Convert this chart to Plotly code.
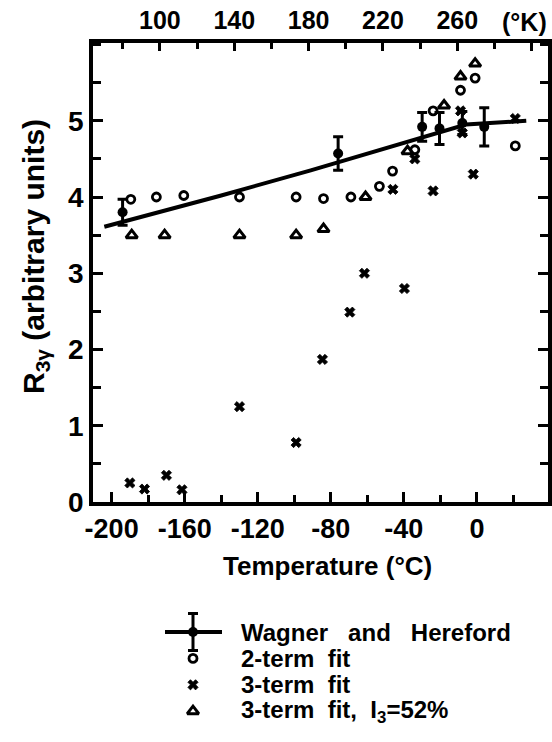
import plotly.graph_objects as go

# ---- data -------------------------------------------------------------
# Wagner and Hereford: temperature (deg C), R3gamma, error
wh_t = [-194, -76, -30, -20.5, -8, 4]
wh_r = [3.80, 4.57, 4.92, 4.90, 4.97, 4.92]
wh_err = [0.17, 0.22, 0.19, 0.21, 0.15, 0.25]

# smooth curve through the Wagner and Hereford results
curve_t = [-204, -140, -91, -42, -6, 27]
curve_r = [3.61, 4.02, 4.35, 4.70, 4.95, 5.00]

# 2-term fit
two_t = [-189.5, -175.5, -160.5, -130, -99, -84, -69, -53.4, -46.2, -34, -24, -9, -1, 21]
two_r = [3.97, 4.00, 4.02, 4.00, 4.00, 3.98, 4.00, 4.14, 4.34, 4.62, 5.13, 5.40, 5.56, 4.67]

# 3-term fit
three_t = [-190, -182, -170, -161.5, -130, -99, -84.6, -69.6, -61.6, -46, -39.7, -34,
           -24, -9, -8, -2, 21]
three_r = [0.25, 0.17, 0.35, 0.16, 1.25, 0.78, 1.87, 2.49, 3.00, 4.10, 2.80, 4.50,
           4.08, 5.13, 4.84, 4.30, 5.03]

# 3-term fit with I3 = 52 %
tri_t = [-189, -171, -130, -99, -84, -61, -38, -18, -9, -1]
tri_r = [3.50, 3.50, 3.50, 3.50, 3.58, 4.00, 4.60, 5.20, 5.58, 5.75]

# axis ticks
c_ticks = [-200, -160, -120, -80, -40, 0]
c_labels = ["-200", "-160", "-120", "-80", "-40", "0"]
k_ticks = [100, 140, 180, 220, 260, 300]
k_labels = ["100", "140", "180", "220", "260", ""]
k_unit = "(°K)"
r_ticks = [0, 1, 2, 3, 4, 5]

legend_labels = ["Wagner   and   Hereford", "2-term  fit", "3-term  fit",
                 "3-term  fit,  I<sub>3</sub>=52%"]

# ---- figure -------------------------------------------------------------
W, H = 552, 742
L_MARGIN, R_MARGIN, T_MARGIN = 0, 4, 43
plot_w = W - L_MARGIN - R_MARGIN
plot_h = H - T_MARGIN
ax_left, ax_bottom = 93, 502          # frame edges in page pixels
leg_top = 595

FONT = "Liberation Sans"
INK = "black"

circle_m = dict(symbol="circle-open", size=8, color=INK, line=dict(width=2.8, color=INK))
cross_m = dict(symbol="x", size=9, color=INK, line=dict(width=0.8, color=INK))
tri_m = dict(symbol="triangle-up-open", size=10, color=INK, line=dict(width=3, color=INK))
dot_m = dict(symbol="circle", size=10, color=INK)

fig = go.Figure()

fig.add_trace(go.Scatter(x=curve_t, y=curve_r, mode="lines",
                         line=dict(color=INK, width=4), hoverinfo="skip"))
fig.add_trace(go.Scatter(x=two_t, y=two_r, mode="markers", marker=circle_m))
fig.add_trace(go.Scatter(x=three_t, y=three_r, mode="markers", marker=cross_m))
fig.add_trace(go.Scatter(x=tri_t, y=tri_r, mode="markers", marker=tri_m))
fig.add_trace(go.Scatter(x=wh_t, y=wh_r, mode="markers", marker=dot_m,
                         error_y=dict(type="data", array=wh_err, visible=True,
                                      color=INK, thickness=3, width=5)))
# kelvin axis carrier (invisible)
fig.add_trace(go.Scatter(x=[t + 273.15 for t in wh_t], y=wh_r, mode="markers",
                         xaxis="x2", marker=dict(opacity=0), hoverinfo="skip"))

# ---- legend (drawn in page-pixel coordinates on a hidden axis pair) -------
row_y = [632 + 26.4 * i for i in range(len(legend_labels))]
key_x = 193
fig.add_trace(go.Scatter(x=[165, 222], y=[row_y[0]] * 2, mode="lines",
                         xaxis="x3", yaxis="y3", line=dict(color=INK, width=4)))
fig.add_trace(go.Scatter(x=[key_x], y=[row_y[0]], mode="markers", xaxis="x3", yaxis="y3",
                         marker=dot_m,
                         error_y=dict(type="constant", value=18.5, visible=True,
                                      color=INK, thickness=3, width=5)))
for m, yy in zip([circle_m, cross_m, tri_m], row_y[1:]):
    fig.add_trace(go.Scatter(x=[key_x], y=[yy], mode="markers", xaxis="x3", yaxis="y3",
                             marker=m))

annotations = []
for label, yy in zip(legend_labels, row_y):
    annotations.append(dict(text=label, x=240, y=yy, xref="x3", yref="y3",
                            xanchor="left", yanchor="middle", showarrow=False,
                            borderpad=0,
                            font=dict(family=FONT, size=24, color=INK, weight="bold")))

# unit label at the right end of the kelvin scale
annotations.append(dict(text=k_unit, x=1, y=(H - 22) / plot_h, xref="paper", yref="paper",
                        xanchor="right", yanchor="middle", showarrow=False, borderpad=0,
                        font=dict(family=FONT, size=25, color=INK, weight="bold")))

annotations.append(dict(text="Temperature (°C)", x=(327 - L_MARGIN) / plot_w,
                        y=(H - 566) / plot_h, xref="paper", yref="paper",
                        xanchor="center", yanchor="middle", showarrow=False,
                        font=dict(family=FONT, size=26, color=INK, weight="bold")))
annotations.append(dict(text="R<sub>3γ</sub> (arbitrary units)", x=(35 - L_MARGIN) / plot_w,
                        y=(H - 257) / plot_h, xref="paper", yref="paper",
                        xanchor="center", yanchor="middle", textangle=-90, showarrow=False,
                        font=dict(family=FONT, size=30, color=INK, weight="bold")))

x_dom = [(ax_left - L_MARGIN) / plot_w, 1]
y_dom = [(H - ax_bottom) / plot_h, 1]

axis_common = dict(showgrid=False, zeroline=False, showline=True, linecolor=INK,
                   linewidth=3.5, ticks="inside", tickcolor=INK, tickwidth=3,
                   automargin=False)

fig.update_layout(
    template="none",
    width=W, height=H, autosize=False,
    margin=dict(l=L_MARGIN, r=R_MARGIN, t=T_MARGIN, b=0, pad=0),
    paper_bgcolor="white", plot_bgcolor="white", showlegend=False,
    font=dict(family=FONT, color=INK, weight="bold"),
    xaxis=dict(domain=x_dom, range=[-210.2, 38.9], anchor="y", mirror=True,
               tickmode="array", tickvals=c_ticks, ticktext=c_labels, ticklen=10,
               tickfont=dict(family=FONT, size=27, color=INK, weight="bold"),
               minor=dict(tickmode="linear", tick0=-200, dtick=20, ticks="inside",
                          ticklen=7, tickwidth=3, tickcolor=INK, showgrid=False),
               **axis_common),
    xaxis2=dict(domain=x_dom, range=[64.0, 308.8], overlaying="x", side="top", anchor="y",
                tickmode="array", tickvals=k_ticks, ticktext=k_labels, ticklen=8,
                tickfont=dict(family=FONT, size=25, color=INK, weight="bold"),
                minor=dict(tickmode="linear", tick0=100, dtick=20, ticks="inside",
                           ticklen=6, tickwidth=3, tickcolor=INK, showgrid=False),
                **axis_common),
    yaxis=dict(domain=y_dom, range=[0, 6.02], anchor="x", mirror="ticks",
               tickmode="array", tickvals=r_ticks, ticklen=10,
               tickfont=dict(family=FONT, size=28, color=INK, weight="bold"),
               minor=dict(tickmode="linear", tick0=0, dtick=0.5, ticks="inside",
                          ticklen=8, tickwidth=3, tickcolor=INK, showgrid=False),
               **axis_common),
    xaxis3=dict(domain=[0, 1], range=[L_MARGIN, W - R_MARGIN], anchor="y3", visible=False,
                automargin=False),
    yaxis3=dict(domain=[0, (H - leg_top) / plot_h], range=[H, leg_top], anchor="x3",
                visible=False, automargin=False),
    annotations=annotations,
)

fig.write_html("out.html")
